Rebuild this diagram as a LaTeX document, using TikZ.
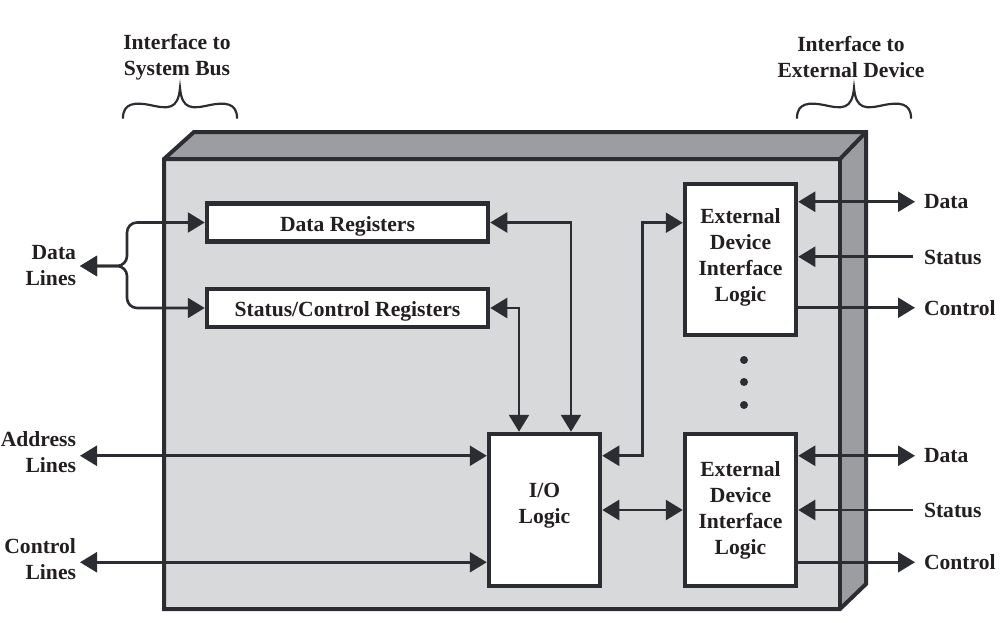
\documentclass[tikz,border=0pt]{standalone}
\usepackage{fontspec}
\setmainfont{Liberation Serif}
\usetikzlibrary{arrows.meta,calc}
\definecolor{ink}{HTML}{2B2D32}
\definecolor{frontgray}{HTML}{D8D9DB}
\definecolor{sidegray}{HTML}{9C9DA1}
\definecolor{txt}{HTML}{231F20}

\begin{document}
\begin{tikzpicture}[x=1pt,y=-1pt,
  every node/.style={font=\fontsize{21.6}{26}\selectfont\bfseries, text=txt},
  blk/.style={draw=ink, line width=4.5pt, fill=white, inner sep=0pt, align=center},
  regblk/.style={blk, minimum width=281pt, minimum height=38pt, text height=17pt, text depth=0pt},
  lbl/.style={inner sep=0pt, outer sep=0pt},
  conn/.style={draw=ink, line width=2.6pt},
  bi/.style={conn, {Triangle[length=17pt,width=20pt]}-{Triangle[length=17pt,width=20pt]}},
  fwd/.style={conn, -{Triangle[length=17pt,width=20pt]}},
  faceline/.style={draw=ink, line width=4pt, line join=miter},
  bracestroke/.style={draw=ink, line width=2.2pt, line cap=round}
]
\useasboundingbox (0,0) rectangle (1001,622);

% I/O module housing: front, top and side faces
\fill[frontgray] (164,159) rectangle (840,609);
\fill[sidegray] (164,159) -- (194,132) -- (866,132) -- (840,159) -- cycle;
\fill[sidegray] (840,159) -- (866,132) -- (866,584) -- (840,609) -- cycle;
\draw[faceline] (164,609) -- (164,159) -- (194,132) -- (866,132) -- (866,584) -- (840,609) -- cycle;
\draw[faceline] (164,159) -- (840,159) -- (866,132);
\draw[faceline] (840,159) -- (840,609);

% inner blocks
\node[regblk] (dr) at (347.5,222.5) {Data Registers};
\node[regblk] (sr) at (347.5,308) {Status/Control Registers};
\node[blk, minimum width=111pt, minimum height=152pt, text depth=13pt] (io) at (544.5,510) {I/O\\Logic};
\node[blk, minimum width=111pt, minimum height=151pt, text depth=9pt] (e1) at (740.5,259.5) {External\\Device\\Interface\\Logic};
\node[blk, minimum width=111pt, minimum height=152pt] (e2) at (740.5,510) {External\\Device\\Interface\\Logic};

% ellipsis between the device interfaces
\fill[ink] (744,360) circle (4pt);
\fill[ink] (744,382) circle (4pt);
\fill[ink] (744,405) circle (4pt);

% headings with braces
\node[lbl, align=center] (isb) at (177,57) {Interface to\\System Bus};
\node[lbl, align=center] (ied) at (851,57) {Interface to\\External Device};
\draw[bracestroke] (123,118) .. controls (123,103) and (135,102) .. (150,105)
  .. controls (168,109) and (178,110) .. (180,88)
  .. controls (182,110) and (192,109) .. (210,105)
  .. controls (225,102) and (237,103) .. (237,118);
\begin{scope}[xshift=674pt]
\draw[bracestroke] (123,118) .. controls (123,103) and (135,102) .. (150,105)
  .. controls (168,109) and (178,110) .. (180,88)
  .. controls (182,110) and (192,109) .. (210,105)
  .. controls (225,102) and (237,103) .. (237,118);
\end{scope}

% system bus side labels
\node[lbl, anchor=east, align=right] (dl) at (76,266) {Data\\Lines};
\node[lbl, anchor=east, align=right] (al) at (76,452) {Address\\Lines};
\node[lbl, anchor=east, align=right] (cl) at (76,559) {Control\\Lines};

% external device side labels
\node[lbl, anchor=west] (d1) at (924,202) {Data};
\node[lbl, anchor=west] (s1) at (924,257) {Status};
\node[lbl, anchor=west] (c1) at (924,308) {Control};
\node[lbl, anchor=west] (d2) at (924,456) {Data};
\node[lbl, anchor=west] (s2) at (924,510) {Status};
\node[lbl, anchor=west] (c2) at (924,562) {Control};

% data lines fork to both register blocks
\coordinate (dlA) at ($(dl.east)+(4,0)$);
\coordinate (br) at ($(dl.east)+(51,0)$);
\draw[bi, rounded corners=10pt] (dlA) -| (br |- dr.west) -- (dr.west);
\draw[bi, rounded corners=10pt] (dlA) -| (br |- sr.west) -- (sr.west);

% address and control lines into the I/O logic
\coordinate (ioA) at ([yshift=-24pt]io.north west);
\coordinate (ioC) at ([yshift=26pt]io.south west);
\draw[bi] ($(ioA -| al.east)+(4,0)$) -- (ioA);
\draw[bi] ($(ioC -| cl.east)+(4,0)$) -- (ioC);

% registers to I/O logic
\coordinate (ioT1) at ([xshift=-25.5pt]io.north);
\coordinate (ioT2) at ([xshift=26.5pt]io.north);
\draw[bi] (dr.east) -| (ioT2);
\draw[bi] (sr.east) -| (ioT1);

% I/O logic to the device interfaces
\coordinate (ioR) at ([yshift=-24pt]io.north east);
\coordinate (e1L) at ([yshift=-41pt]e1.north west);
\draw[bi] (ioR) -| ($(ioR)!.5!(e1L)$) |- (e1L);
\draw[bi] (io.east) -- (e2.west);

% device interface outputs
\coordinate (e1d) at ([yshift=-20pt]e1.north east);
\coordinate (e1s) at ([yshift=-75pt]e1.north east);
\coordinate (e1c) at ([yshift=-126pt]e1.north east);
\draw[bi] (e1d) -- ($(e1d -| d1.west)+(-9,0)$);
\draw[fwd] ($(e1s -| s1.west)+(-11,0)$) -- (e1s);
\draw[fwd] (e1c) -- ($(e1c -| c1.west)+(-9,0)$);

\coordinate (e2d) at ([yshift=-24pt]e2.north east);
\coordinate (e2c) at ([yshift=26pt]e2.south east);
\draw[bi] (e2d) -- ($(e2d -| d2.west)+(-9,0)$);
\draw[fwd] ($(e2.east -| s2.west)+(-11,0)$) -- (e2.east);
\draw[fwd] (e2c) -- ($(e2c -| c2.west)+(-9,0)$);
\end{tikzpicture}
\end{document}
